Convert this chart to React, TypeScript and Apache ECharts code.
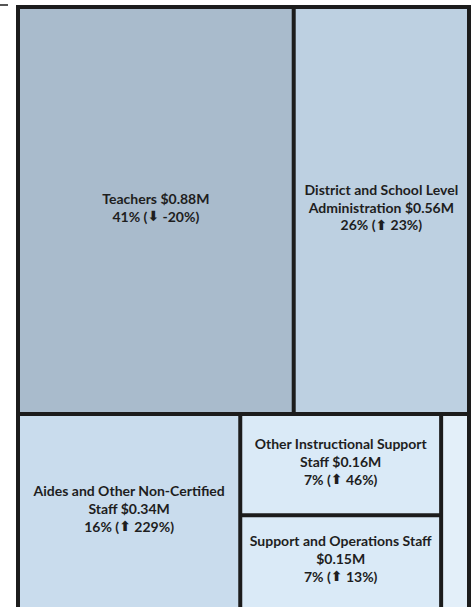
import React, { useEffect, useRef } from 'react';
import * as echarts from 'echarts';

const categories = [
  'Teachers',
  'District and School Level Administration',
  'Aides and Other Non-Certified Staff',
  'Other Instructional Support Staff',
  'Support and Operations Staff',
  'Other Staff',
];
// how each name is broken over lines in its box
const nameLines = [
  ['Teachers'],
  ['District and School Level', 'Administration'],
  ['Aides and Other Non-Certified', 'Staff'],
  ['Other Instructional Support', 'Staff'],
  ['Support and Operations Staff', ''],
  ['Other Staff'],
];
// amounts in $M (estimated to the precision the box sizes show)
const valuesM = [0.884, 0.562, 0.343, 0.16, 0.15, 0.043];
const sharePct = [41, 26, 16, 7, 7, 2];
const changePct = [-20, 23, 229, 46, 13, 0];
const showLabel = [true, true, true, true, true, false];
const colors = ['#a9bbcc', '#bdd0e1', '#c9dced', '#daeaf7', '#daeaf7', '#e3eff9'];

const LINE_H = 18;

function lineCount(i: number): number {
  return nameLines[i].length + 1;
}

function labelFor(i: number): string {
  const lines = nameLines[i].slice();
  const last = lines.length - 1;
  const money = `$${valuesM[i].toFixed(2)}M`;
  lines[last] = lines[last] ? `${lines[last]} ${money}` : money;
  const ch = changePct[i];
  const arrow = ch < 0 ? '⬇' : '⬆';
  const out = lines.map((l) => `{t|${l}}`);
  out.push(`{t|${sharePct[i]}% (}{a|${arrow}}{t| ${ch}%)}`);
  return out.join('\n');
}

export default function App() {
  const ref = useRef<HTMLDivElement>(null);
  useEffect(() => {
    if (!ref.current) return;
    const chart = echarts.init(ref.current, null, { renderer: 'svg' });
    const buildData = (pads: number[]) =>
      categories.map((name, i) => ({
        name,
        value: valuesM[i],
        itemStyle: { color: colors[i] },
        label: { show: showLabel[i], padding: [pads[i], 0, 0, 0] },
      }));
    const option: any = {
      animation: false,
      graphic: [
        {
          type: 'rect',
          shape: { x: 0, y: 4, width: 8, height: 2 },
          style: { fill: '#555555' },
        },
      ],
      series: [
        {
          type: 'treemap',
          left: 16,
          top: 5,
          width: 455,
          height: 607,
          roam: false,
          nodeClick: false,
          breadcrumb: { show: false },
          sort: false,
          squareRatio: 0.5 * (1 + Math.sqrt(5)),
          itemStyle: { borderColor: '#1c1c1c', borderWidth: 2, gapWidth: 0 },
          label: {
            show: true,
            position: 'inside',
            align: 'center',
            verticalAlign: 'middle',
            formatter: (p: any) => labelFor(categories.indexOf(p.name)),
            rich: {
              t: {
                fontFamily: 'Lato',
                fontWeight: 'bold',
                fontSize: 14,
                lineHeight: LINE_H,
                color: '#1e1e1e',
              },
              a: {
                fontFamily: 'DejaVu Sans',
                fontWeight: 'bold',
                fontSize: 14,
                lineHeight: LINE_H,
                color: '#1e1e1e',
              },
            },
          },
          data: buildData(categories.map(() => 0)),
        },
      ],
    };
    chart.setOption(option);
    // second pass: centre each label vertically inside its laid-out box
    const model: any = (chart as any).getModel().getSeriesByIndex(0);
    const pads = categories.map(() => 0);
    const root = model.getData().tree.root;
    root.children.forEach((node: any) => {
      const i = categories.indexOf(node.name);
      const l = node.getLayout();
      if (i >= 0 && l) {
        pads[i] = Math.max(0, Math.round((l.height - lineCount(i) * LINE_H) / 2 - 6));
      }
    });
    option.series[0].data = buildData(pads);
    chart.setOption(option);
    return () => chart.dispose();
  }, []);
  return (
    <div
      ref={ref}
      style={{ position: 'absolute', left: 0, top: 0, width: 476, height: 640 }}
    />
  );
}
